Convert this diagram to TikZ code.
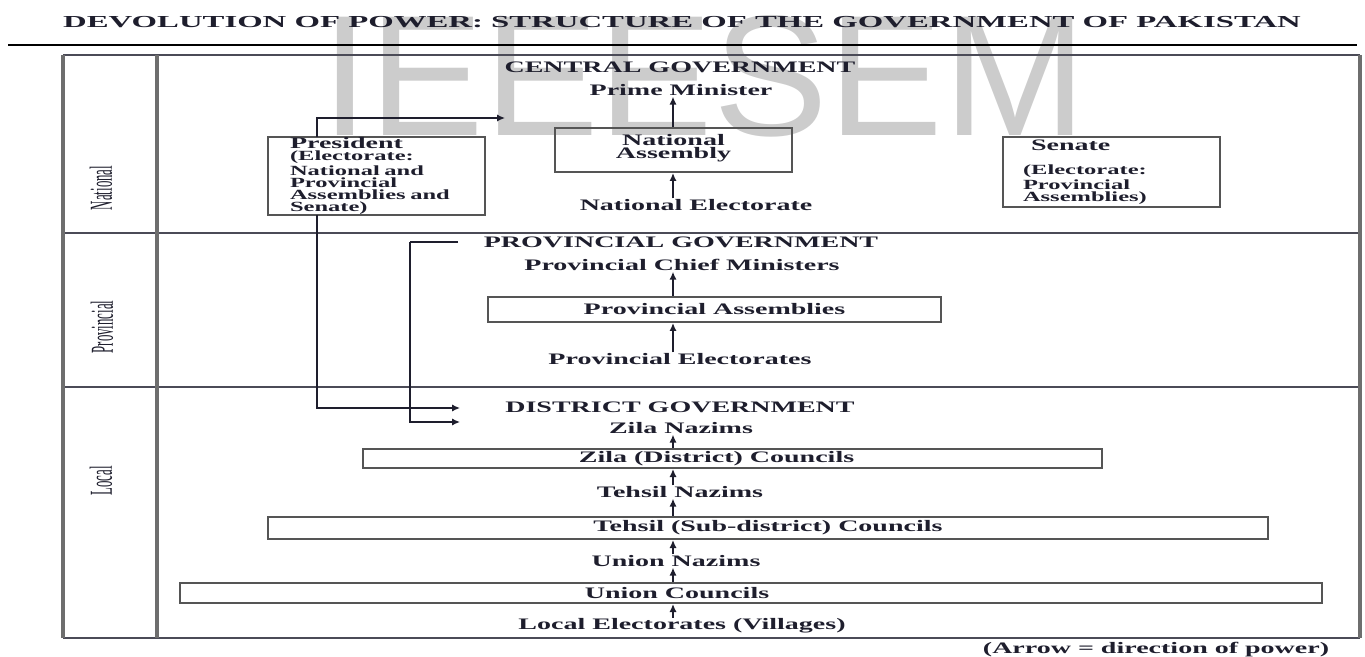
\documentclass[tikz,border=0pt]{standalone}
\usepackage{fontspec}
\setmainfont{Liberation Serif}
\newfontfamily\stretchfont[FakeStretch=1.75]{Liberation Serif}
\newfontfamily\titlefont[FakeStretch=1.95]{Liberation Serif}
\newfontfamily\tierfont[FakeStretch=0.4]{Liberation Serif}
\newfontfamily\markfont{Liberation Sans}
\usetikzlibrary{positioning}
\usetikzlibrary{arrows.meta}
\definecolor{myink}{RGB}{30,30,45}
\definecolor{myline}{RGB}{85,85,85}
\definecolor{myframe}{RGB}{110,110,110}
\definecolor{mywater}{RGB}{204,204,204}

\begin{document}
\begin{tikzpicture}[x=0.5pt,y=-0.5pt,
every node/.style={inner sep=0pt,outer sep=0pt,text=myink},
lvl/.style={font=\stretchfont\bfseries\fontsize{8}{9}\selectfont},
boxb/.style={
  draw=myline,
  line width=1pt,
  lvl,
  align=center},
infob/.style={boxb,
  font=\stretchfont\bfseries\fontsize{7}{6}\selectfont,
  align=left,
  inner xsep=11pt,
  text width=86.5pt},
tier/.style={rotate=90,font=\tierfont\fontsize{16}{16}\selectfont},
pow/.style={-{Latex[length=4pt,width=3.6pt]},line width=0.75pt,draw=myink,
  shorten >=0.5pt,shorten <=0.5pt},
link/.style={-{Latex[length=4pt,width=3.6pt]},line width=0.7pt,draw=myink},
vline/.style={draw=myframe,line width=1.6pt},
hline/.style={draw=myink!80,line width=0.7pt},
]
\useasboundingbox (0,0) rectangle (1365,657);

% watermark
\node[font=\markfont\fontsize{86}{86}\selectfont,text=mywater] (mark) at (704,76) {IEEESEM};

% title and rule
\node[font=\titlefont\bfseries\fontsize{8.4}{10}\selectfont] (title) at (682,22)
  {DEVOLUTION OF POWER: STRUCTURE OF THE GOVERNMENT OF PAKISTAN};
\draw[draw=black,line width=0.8pt] (8,45) -- (1357,45);

% frame
\draw[hline] (63,55) -- (1360,55);
\draw[hline] (63,233) -- (1360,233);
\draw[hline] (63,387) -- (1360,387);
\draw[hline] (63,638) -- (1360,638);
\draw[vline] (63,55) -- (63,638);
\draw[vline] (157,55) -- (157,638);
\draw[vline] (1360,55) -- (1360,638);

\node[tier] (national) at (101,188) {National};
\node[tier] (provincial) at (102,327) {Provincial};
\node[tier] (local) at (101,481) {Local};

% central level
\coordinate (ax) at (673,0);
\node[lvl] (cg) at (680,67) {CENTRAL GOVERNMENT};
\node[lvl] (pm) at (681,90) {Prime Minister};
\node[boxb,minimum width=118.5pt,minimum height=22pt,font=\stretchfont\bfseries\fontsize{8}{6.5}\selectfont] (na) at (673.5,150)
  {National\\Assembly\\[-3pt]};
\node[lvl] (ne) at (696,205) {National Electorate};
\node[infob,minimum height=39pt] (pres) at (376.5,176)
  {{\fontsize{8}{6}\selectfont President}\\(Electorate:\\National and\\Provincial\\Assemblies and\\Senate)};
\node[infob,inner xsep=10pt,text width=88.5pt,minimum height=35pt] (sen) at (1111.5,172)
  {{\fontsize{8}{6}\selectfont\hspace*{4pt}Senate}\\[6pt](Electorate:\\Provincial\\Assemblies)};

% provincial level
\node[lvl] (pg) at (681,242) {PROVINCIAL GOVERNMENT};
\node[lvl] (pcm) at (682,265) {Provincial Chief Ministers};
\node[boxb,minimum width=226.5pt,minimum height=12.5pt] (pa) at (714.5,309.5)
  {Provincial Assemblies};
\node[lvl] (pe) at (680,359) {Provincial Electorates};

% local level
\node[lvl] (dg) at (680,407) {DISTRICT GOVERNMENT};
\node[lvl] (zn) at (681,428) {Zila Nazims};
\node[boxb,minimum width=369.5pt,minimum height=9.5pt] (zc) at (732.5,458.5)
  {\hspace*{-16pt}Zila (District) Councils};
\node[lvl] (tn) at (680,492) {Tehsil Nazims};
\node[boxb,minimum width=500pt,minimum height=11pt] (tc) at (768,528)
  {Tehsil (Sub-district) Councils};
\node[lvl] (un) at (676,561) {Union Nazims};
\node[boxb,minimum width=571pt,minimum height=10pt] (uc) at (751,593)
  {\hspace*{-74pt}Union Councils};
\node[lvl] (le) at (682,626) {Local Electorates (Villages)};

\node[lvl] (note) at (1156,650) {(Arrow = direction of power)};

% direction of power
\draw[pow] (na.north -| ax) -- (pm.south -| ax);
\draw[pow] (ne.north -| ax) -- (na.south -| ax);
\draw[pow] (pa.north -| ax) -- (pcm.south -| ax);
\draw[pow] (pe.north -| ax) -- (pa.south -| ax);
\draw[pow] (zc.north -| ax) -- (zn.south -| ax);
\draw[pow] (tn.north -| ax) -- (zc.south -| ax);
\draw[pow] (tc.north -| ax) -- (tn.south -| ax);
\draw[pow] (un.north -| ax) -- (tc.south -| ax);
\draw[pow] (uc.north -| ax) -- (un.south -| ax);
\draw[pow] (le.north -| ax) -- (uc.south -| ax);

% links to district government
\coordinate (px) at (317,0);
\coordinate (pmin) at (505,118);
\coordinate (dga) at (460,408);
\coordinate (dgb) at (460,422);
\coordinate (pgl) at (458,242);
\draw[link] (pres.north -| px) |- (pmin);
\draw[link] (pres.south -| px) |- (dga);
\draw[link,-] (pgl) -- ++(-48,0) coordinate (pgc);
\draw[link] (pgc) |- (dgb);
\end{tikzpicture}
\end{document}
